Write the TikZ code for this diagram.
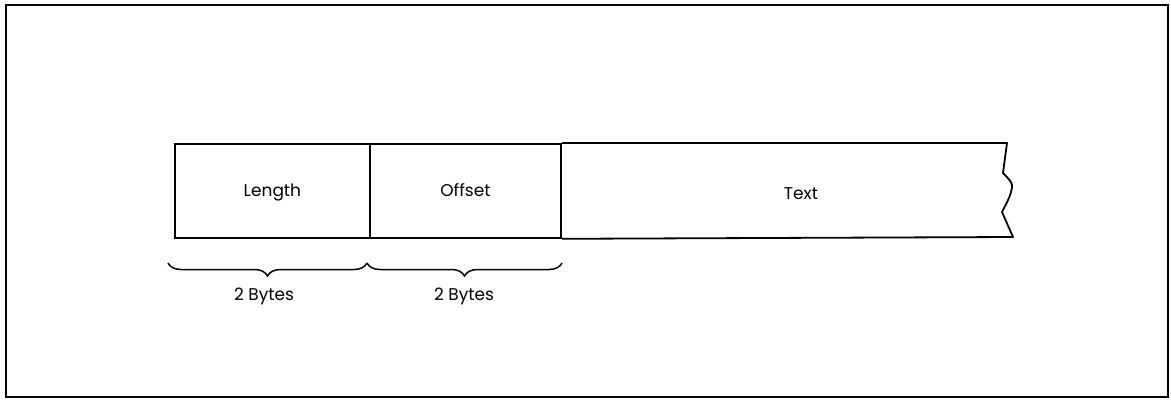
\documentclass[tikz,border=0pt]{standalone}
\usepackage{fontspec}
\setmainfont{Poppins}
\usetikzlibrary{decorations.pathreplacing}
\begin{document}
\begin{tikzpicture}[x=1pt,y=-1pt,
  field/.style={draw,line width=1.8pt,minimum width=#1,minimum height=94pt,inner sep=0pt,anchor=north west,
    text height=12pt,text depth=0pt,font=\fontsize{17}{20}\selectfont},
  lbl/.style={font=\fontsize{17}{20}\selectfont,inner sep=0pt,anchor=base},
  bytebrace/.style={decorate,decoration={brace,mirror,amplitude=13pt},line width=1.5pt}]
\useasboundingbox (0,0) rectangle (1171,400);
\draw[line width=1.5pt] (6,5) rectangle (1168,397);
\node[field=195pt] (len) at (174,143) {Length};
\node[field=191pt] (off) at (369,143) {Offset};
\coordinate (t1) at (1007,143);
\coordinate (t2) at (1003,173);
\coordinate (t3) at (1012,187);
\coordinate (t4) at (1002,212);
\coordinate (t5) at (1013,237);
\draw[line width=1.8pt,line join=round] (off.north east) -- (t1) -- (t2)
  .. controls (1010,180) and (1013,184) .. (t3)
  .. controls (1011,196) and (1006,204) .. (t4) -- (t5) -- (off.south east);
\node[lbl] (txt) at (801,199) {Text};
\coordinate (b1) at (168,263);
\coordinate (b2) at (367,263);
\coordinate (b3) at (562,263);
\draw[bytebrace] (b1) -- (b2);
\draw[bytebrace] (b2) -- (b3);
\node[lbl] (by1) at (264,300) {2 Bytes};
\node[lbl] (by2) at (464,300) {2 Bytes};
\end{tikzpicture}
\end{document}
